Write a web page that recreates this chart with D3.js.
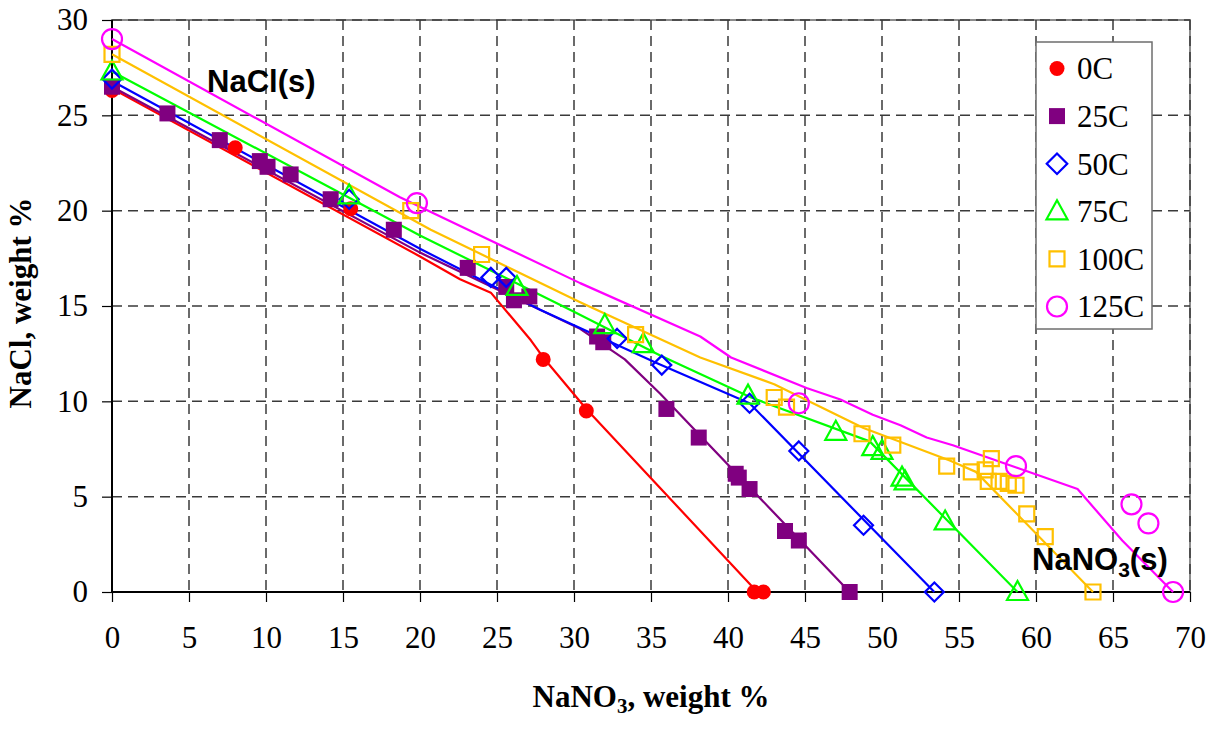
<!DOCTYPE html>
<html>
<head>
<meta charset="utf-8">
<script src="https://cdn.jsdelivr.net/npm/d3@7"></script>
<style>
  html, body { margin: 0; padding: 0; background: #ffffff; }
  svg { display: block; }
</style>
</head>
<body>
<svg id="chart" width="1225" height="730"></svg>
<script>
// ---------- DATA ----------
const xTicks = [0, 5, 10, 15, 20, 25, 30, 35, 40, 45, 50, 55, 60, 65, 70];
const yTicks = [0, 5, 10, 15, 20, 25, 30];
const seriesNames = ["0C", "25C", "50C", "75C", "100C", "125C"];

// measured points [NaNO3 wt%, NaCl wt%]
const pts0C = [[0,26.3],[8.0,23.3],[15.5,20.1],[23.1,17.0],[28.0,12.2],[30.8,9.5],[41.7,0],[42.3,0]];
const pts25C = [[0,26.5],[3.6,25.1],[7.0,23.7],[9.6,22.6],[10.1,22.3],[11.6,21.9],[14.2,20.6],[18.3,19.0],[23.1,17.0],[25.6,16.0],[26.1,15.3],[27.1,15.5],[31.5,13.4],[31.9,13.1],[36.0,9.6],[38.1,8.1],[40.5,6.2],[40.7,6.0],[41.4,5.4],[43.7,3.2],[44.6,2.7],[47.9,0]];
const pts50C = [[0,26.9],[15.4,20.6],[24.6,16.5],[25.6,16.5],[32.8,13.3],[35.7,11.9],[41.4,9.9],[44.6,7.4],[48.8,3.5],[53.4,0]];
const pts75C = [[0,27.3],[15.4,20.8],[26.3,16.0],[32.0,14.0],[34.5,13.0],[41.3,10.3],[47.0,8.4],[49.4,7.6],[50.0,7.4],[51.3,6.0],[51.5,5.8],[54.1,3.7],[58.8,0]];
const pts100C = [[0,28.2],[19.4,20.0],[24.0,17.7],[34.0,13.5],[43.0,10.2],[43.8,9.7],[48.7,8.3],[50.7,7.7],[54.2,6.6],[55.8,6.3],[56.7,6.4],[57.1,7.0],[56.9,5.8],[57.6,5.8],[58.2,5.7],[58.7,5.6],[59.4,4.1],[60.6,2.9],[63.7,0]];
const pts125C = [[0,29.0],[19.8,20.4],[44.6,9.9],[58.7,6.6],[66.2,4.6],[67.3,3.6],[68.9,0]];

// model curves
const line0C = [[0,26.4],[20,17.6],[22.6,16.4],[24.6,15.7],[27.2,13.2],[28,12.3],[30.8,9.6],[41.9,0]];
const line25C = [[0,26.5],[20,17.8],[30.4,13.8],[33.3,12.2],[35.6,10.4],[47.9,0]];
const line50C = [[0,26.8],[20,18.0],[27.8,14.8],[35.4,12.0],[41.4,9.9],[53.4,0]];
const line75C = [[0,27.3],[20,18.7],[30,14.7],[35.6,12.4],[41.5,10.2],[49.2,7.9],[58.8,0]];
const line100C = [[0,28.2],[20.7,19.0],[30.4,15.2],[38.2,12.3],[43,10.9],[48.8,8.6],[54.4,6.9],[56.1,6.3],[63.7,0]];
const line125C = [[0,29.0],[18.7,20.7],[30.4,16.2],[38.2,13.4],[40.2,12.3],[45.1,10.7],[47.3,10.1],[49.4,9.3],[51.2,8.75],[52.9,8.1],[54.6,7.7],[62.7,5.4],[65.6,2.7],[68.9,0]];

// ---------- STYLE ----------
const colors = ["#FF0000", "#800080", "#0000FF", "#00FF00", "#FFC000", "#FF00FF"];
const shapes = ["circleFilled", "squareFilled", "diamond", "triangle", "square", "circle"];
const allPts = [pts0C, pts25C, pts50C, pts75C, pts100C, pts125C];
const allLines = [line0C, line25C, line50C, line75C, line100C, line125C];

const margin = {left: 112, top: 20, right: 35, bottom: 138};
const W = 1225, H = 730;
const iw = W - margin.left - margin.right;
const ih = H - margin.top - margin.bottom;
const serif = "Liberation Serif, Times New Roman, serif";
const sans = "Liberation Sans, Arial, sans-serif";

const svg = d3.select("#chart");
const g = svg.append("g").attr("transform", `translate(${margin.left},${margin.top})`);

const x = d3.scaleLinear().domain([0, 70]).range([0, iw]);
const y = d3.scaleLinear().domain([0, 30]).range([ih, 0]);

// plot border (grey)
g.append("rect").attr("x", 0).attr("y", 0).attr("width", iw).attr("height", ih)
  .attr("fill", "none").attr("stroke", "#8c8c8c").attr("stroke-width", 2);

// gridlines
g.append("g").selectAll("line").data(xTicks.filter(d => d > 0)).join("line")
  .attr("x1", d => x(d)).attr("x2", d => x(d)).attr("y1", 0).attr("y2", ih)
  .attr("stroke", "#3a3a3a").attr("stroke-width", 1.5).attr("stroke-dasharray", "10,6");
g.append("g").selectAll("line").data(yTicks.filter(d => d > 0)).join("line")
  .attr("y1", d => y(d)).attr("y2", d => y(d)).attr("x1", 0).attr("x2", iw)
  .attr("stroke", "#3a3a3a").attr("stroke-width", 1.5).attr("stroke-dasharray", "10,6");

// axes
const xAxis = d3.axisBottom(x).tickValues(xTicks).tickSize(10).tickPadding(24).tickFormat(d3.format("d"));
const yAxis = d3.axisLeft(y).tickValues(yTicks).tickSize(10).tickPadding(14).tickFormat(d3.format("d"));
const gx = g.append("g").attr("transform", `translate(0,${ih})`).call(xAxis);
const gy = g.append("g").call(yAxis);
[gx, gy].forEach(a => {
  a.attr("font-family", serif).attr("font-size", 31);
  a.select(".domain").attr("stroke", "#000").attr("stroke-width", 2);
  a.selectAll(".tick line").attr("stroke", "#000").attr("stroke-width", 1.2);
  a.selectAll(".tick text").attr("fill", "#000").attr("font-family", serif).attr("font-size", 31);
});
gx.select(".domain").attr("d", `M0,0H${iw}`);
gy.select(".domain").attr("d", `M0,${ih}V0`);

// marker path generator
function markerPath(shape, cx, cy, s) {
  const k = s || 1;
  switch (shape) {
    case "circleFilled": { const r = 7.5 * k; return `M${cx - r},${cy}a${r},${r} 0 1,0 ${2*r},0a${r},${r} 0 1,0 ${-2*r},0Z`; }
    case "circle": { const r = 10 * k; return `M${cx - r},${cy}a${r},${r} 0 1,0 ${2*r},0a${r},${r} 0 1,0 ${-2*r},0Z`; }
    case "squareFilled": { const h = 8 * k; return `M${cx-h},${cy-h}H${cx+h}V${cy+h}H${cx-h}Z`; }
    case "square": { const h = 7.5 * k; return `M${cx-h},${cy-h}H${cx+h}V${cy+h}H${cx-h}Z`; }
    case "diamond": { const h = 9.5 * k; return `M${cx},${cy-h}L${cx+h},${cy}L${cx},${cy+h}L${cx-h},${cy}Z`; }
    case "triangle": { const w = 10.5 * k; return `M${cx},${cy-11*k}L${cx+w},${cy+8*k}L${cx-w},${cy+8*k}Z`; }
  }
}
const filled = s => s === "circleFilled" || s === "squareFilled";

const lineGen = d3.line().x(d => x(d[0])).y(d => y(d[1]));

allLines.forEach((ln, i) => {
  g.append("path").datum(ln).attr("d", lineGen)
    .attr("fill", "none").attr("stroke", colors[i]).attr("stroke-width", 2.2)
    .attr("stroke-linejoin", "round");
});
allPts.forEach((pts, i) => {
  g.append("g").selectAll("path").data(pts).join("path")
    .attr("d", d => markerPath(shapes[i], x(d[0]), y(d[1])))
    .attr("fill", filled(shapes[i]) ? colors[i] : "none")
    .attr("stroke", filled(shapes[i]) ? "none" : colors[i])
    .attr("stroke-width", 2.2);
});

// annotations
svg.append("text").attr("x", 207).attr("y", 92)
  .attr("font-family", sans).attr("font-weight", "bold").attr("font-size", 31)
  .text("NaCl(s)");
const nano = svg.append("text").attr("x", 1032).attr("y", 570)
  .attr("font-family", sans).attr("font-weight", "bold").attr("font-size", 31);
nano.append("tspan").text("NaNO");
nano.append("tspan").attr("dy", 7).attr("font-size", 21).text("3");
nano.append("tspan").attr("dy", -7).text("(s)");

// axis titles
const xt = svg.append("text").attr("x", 651).attr("y", 707).attr("text-anchor", "middle")
  .attr("font-family", serif).attr("font-weight", "bold").attr("font-size", 31);
xt.append("tspan").text("NaNO");
xt.append("tspan").attr("dy", 6).attr("font-size", 21).text("3");
xt.append("tspan").attr("dy", -6).text(", weight %");

svg.append("text").attr("transform", "translate(31,303) rotate(-90)").attr("text-anchor", "middle")
  .attr("font-family", serif).attr("font-weight", "bold").attr("font-size", 31)
  .text("NaCl, weight %");

// legend
const lg = svg.append("g");
lg.append("rect").attr("x", 1036).attr("y", 42).attr("width", 116).attr("height", 287)
  .attr("fill", "#fff").attr("stroke", "#6e6e6e").attr("stroke-width", 1.5);
const legendScale = d3.scalePoint().domain(seriesNames).range([68.5, 306.5]);
seriesNames.forEach((name, i) => {
  const ly = legendScale(name);
  lg.append("path").attr("d", markerPath(shapes[i], 1057, ly, shapes[i] === "diamond" ? 1.08 : 1))
    .attr("fill", filled(shapes[i]) ? colors[i] : "none")
    .attr("stroke", filled(shapes[i]) ? "none" : colors[i]).attr("stroke-width", 2.2);
  lg.append("text").attr("x", 1077).attr("y", ly).attr("dy", "0.35em")
    .attr("font-family", serif).attr("font-size", 31).text(name);
});
</script>
</body>
</html>
